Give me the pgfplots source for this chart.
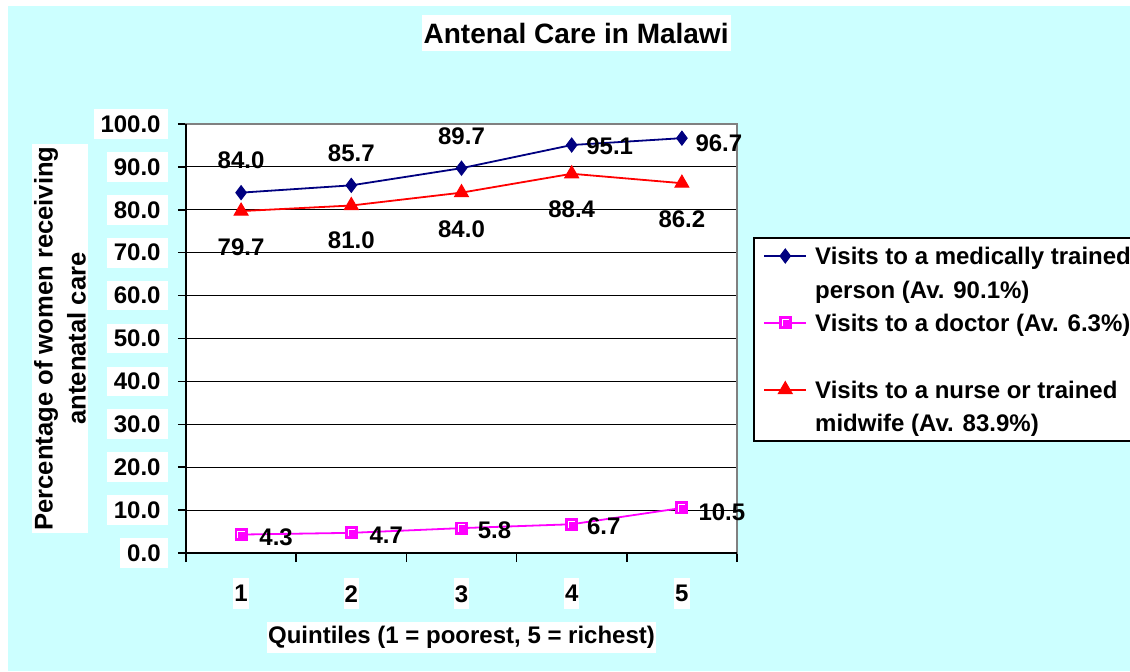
\documentclass[border=0pt]{standalone}
\usepackage{fontspec}
\setmainfont{Liberation Sans}
\usepackage{pgfplots}
\pgfplotsset{compat=1.18}
\definecolor{bgcyan}{RGB}{204,255,255}
\definecolor{navyc}{RGB}{0,0,128}
\definecolor{magc}{RGB}{255,0,255}
\definecolor{redc}{RGB}{255,0,0}
\definecolor{bordgray}{RGB}{128,128,128}

\pgfdeclareplotmark{docsq}{%
  \pgfpathrectangle{\pgfqpoint{-\pgfplotmarksize}{-\pgfplotmarksize}}{\pgfqpoint{2\pgfplotmarksize}{2\pgfplotmarksize}}%
  \pgfusepathqfillstroke
  \begin{pgfscope}%
  \pgfsetstrokecolor{white}\pgfsetlinewidth{0.4pt}%
  \pgfpathmoveto{\pgfqpoint{-0.55\pgfplotmarksize}{-0.6\pgfplotmarksize}}%
  \pgfpathlineto{\pgfqpoint{-0.55\pgfplotmarksize}{0.55\pgfplotmarksize}}%
  \pgfpathlineto{\pgfqpoint{0.6\pgfplotmarksize}{0.55\pgfplotmarksize}}%
  \pgfusepathqstroke
  \end{pgfscope}%
}

\pgfplotsset{
  lbl/.style={
    nodes near coords={\pgfmathprintnumber[fixed,fixed zerofill,precision=1,assume math mode=true]{\pgfplotspointmeta}},
    visualization depends on={value \thisrow{dx}\as\dx},
    visualization depends on={value \thisrow{dy}\as\dy},
    every node near coord/.append style={text=black, anchor=center, inner sep=0pt, xshift=\dx pt, yshift=\dy pt},
  },
}

\begin{document}
\fontsize{12}{14.4}\selectfont\bfseries
\begin{tikzpicture}
\useasboundingbox (0,0) rectangle (565pt,335.5pt);
\fill[bgcyan] (4pt,0) rectangle (565pt,332.5pt);
\begin{axis}[
  at={(93pt,59pt)}, anchor=south west,
  scale only axis, width=275.5pt, height=214.5pt,
  xmin=0.5, xmax=5.5, ymin=0, ymax=100,
  axis background/.style={fill=white},
  axis line style={draw=bordgray, line width=0.75pt},
  xtick={1,2,3,4,5},
  minor xtick={0.5,1.5,2.5,3.5,4.5,5.5},
  ytick={0,10,...,100},
  tick align=outside, tick pos=left,
  major tick length=4pt, minor tick length=4.5pt,
  major x tick style={draw=none},
  minor x tick style={draw=black, line width=0.75pt},
  major y tick style={draw=black, line width=0.75pt},
  ymajorgrids, major grid style={draw=black, line width=0.5pt},
  /pgf/number format/assume math mode=true,
  yticklabel style={fill=white, inner xsep=3.5pt, inner ysep=3.2pt, xshift=-5pt},
  yticklabel style={/pgf/number format/fixed, /pgf/number format/fixed zerofill, /pgf/number format/precision=1},
  xticklabel style={fill=white, inner xsep=0.5pt, inner ysep=3.5pt, yshift=-8.5pt},
  title={Antenal Care in Malawi},
  title style={at={(axis description cs:0.708,1.184)}, anchor=center, fill=white, inner xsep=1pt, inner ysep=4pt, font=\fontsize{14}{17}\selectfont\bfseries},
  xlabel={Quintiles (1 = poorest, 5 = richest)},
  xlabel style={at={(axis description cs:0.5,-0.197)}, anchor=center, fill=white, inner xsep=0.5pt, inner ysep=2pt},
  ylabel={Percentage of women receiving\\antenatal care},
  ylabel style={at={(axis description cs:-0.2287,0.5)}, anchor=center, align=center, fill=white, inner sep=1pt, font=\fontsize{12.8}{16.5}\selectfont\bfseries},
  legend cell align=left,
  legend image code/.code={\draw[mark repeat=2,mark phase=2,#1] plot coordinates {(0pt,0pt) (10.5pt,0pt) (21pt,0pt)};},
  legend style={at={(axis description cs:1.029,0.7366)}, anchor=north west, draw=black, line width=1pt, fill=white, inner xsep=4.7pt, inner ysep=4.7pt, row sep=8.1pt, column sep=4pt, nodes={inner sep=0pt, text height=8.6pt, text depth=0pt}},
  after end axis/.code={\draw[black, line width=1pt] (rel axis cs:0,1) -- (rel axis cs:0,0) -- (rel axis cs:1,0);},
]
\addplot[navyc, line width=0.9pt, mark=diamond*, mark size=3.5pt, mark options={solid, fill=navyc, line width=0.5pt}, lbl] table[x=x, y=y] {
x y dx dy
1 84.0 0 16
2 85.7 0 16
3 89.7 0 16
4 95.1 19 -0.5
5 96.7 18.5 -2.5
};
\addlegendentry{Visits to a medically trained}
\addlegendimage{empty legend}
\addlegendentry{person (Av. 90.1\%)}
\addplot[magc, line width=0.9pt, mark=docsq, mark size=3pt, mark options={solid, fill=magc, draw=magc, line width=0.5pt}, lbl] table[x=x, y=y] {
x y dx dy
1 4.3 17.5 -1.5
2 4.7 17.5 -1
3 5.8 16.5 -1
4 6.7 16 -1
5 10.5 20 -2
};
\addlegendentry{Visits to a doctor (Av. 6.3\%)}
\addlegendimage{empty legend}
\addlegendentry{\phantom{x}}
\addplot[redc, line width=0.9pt, mark=triangle*, mark size=4pt, mark options={solid, fill=redc, line width=0.5pt}, lbl] table[x=x, y=y] {
x y dx dy
1 79.7 0 -18
2 81.0 0 -17.5
3 84.0 0 -18.5
4 88.4 0 -17.5
5 86.2 0 -18
};
\addlegendentry{Visits to a nurse or trained}
\addlegendimage{empty legend}
\addlegendentry{midwife (Av. 83.9\%)}
\end{axis}
\end{tikzpicture}
\end{document}
